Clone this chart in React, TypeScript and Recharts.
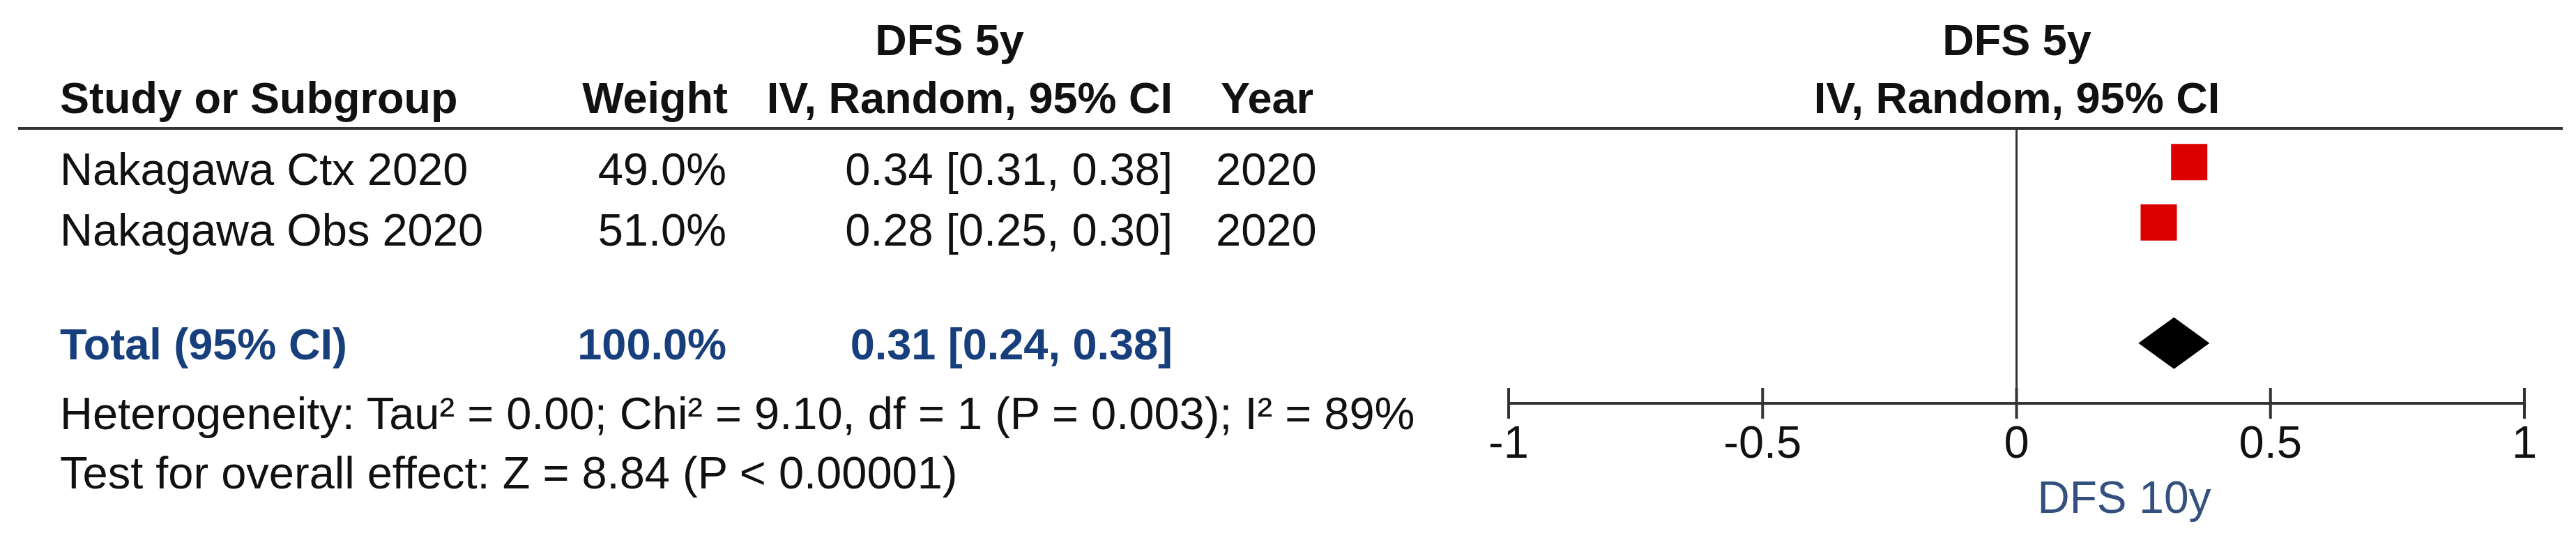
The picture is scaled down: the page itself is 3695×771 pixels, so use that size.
import React from "react";
import { ScatterChart, Scatter, XAxis, YAxis, ReferenceLine, Label } from "recharts";

// study rows
const studies = ["Nakagawa Ctx 2020", "Nakagawa Obs 2020"];
const weights = ["49.0%", "51.0%"];
const estimates = [0.34, 0.28];
const ciLower = [0.31, 0.25];
const ciUpper = [0.38, 0.3];
const years = ["2020", "2020"];

// pooled result
const totalLabel = "Total (95% CI)";
const totalWeight = "100.0%";
const totalEstimate = 0.31;
const totalLower = 0.24;
const totalUpper = 0.38;

const xTicks = [-1, -0.5, 0, 0.5, 1];
const outcomeTitle = "DFS 5y";
const methodLabel = "IV, Random, 95% CI";
const axisLabel = "DFS 10y";
const heterogeneityText =
  "Heterogeneity: Tau² = 0.00; Chi² = 9.10, df = 1 (P = 0.003); I² = 89%";
const overallEffectText = "Test for overall effect: Z = 8.84 (P < 0.00001)";

const SPACER = " ";
const FONT = '"Liberation Sans", Arial, sans-serif';
const INK = "#111111";
const TOTAL_BLUE = "#173f7c";
const LABEL_BLUE = "#34507e";
const LINE = "#333333";

const W = 3695;
const H = 771;

const fmtCI = (e: number, l: number, u: number) =>
  `${e.toFixed(2)} [${l.toFixed(2)}, ${u.toFixed(2)}]`;

const studyPoints = studies.map((s, i) => ({ study: s, x: estimates[i] }));
const spacerPoints = [{ study: SPACER, x: 0 }];
const pooledPoints = [totalLower, totalEstimate, totalUpper].map((x) => ({
  study: totalLabel,
  x,
}));

function RowTick(props: any) {
  const { y, payload } = props;
  const name = payload?.value;
  const i = studies.indexOf(name);
  if (i >= 0) {
    const by = y + 33;
    return (
      <g fontFamily={FONT} fontSize={65} fill={INK}>
        <text x={86} y={by}>{name}</text>
        <text x={1042} y={by} textAnchor="end">{weights[i]}</text>
        <text x={1682} y={by} textAnchor="end">
          {fmtCI(estimates[i], ciLower[i], ciUpper[i])}
        </text>
        <text x={1744} y={by}>{years[i]}</text>
      </g>
    );
  }
  if (name === totalLabel) {
    const by = y + 23;
    return (
      <g fontFamily={FONT} fontSize={63} fontWeight="bold" fill={TOTAL_BLUE}>
        <text x={86} y={by}>{totalLabel}</text>
        <text x={1042} y={by} textAnchor="end">{totalWeight}</text>
        <text x={1682} y={by} textAnchor="end">
          {fmtCI(totalEstimate, totalLower, totalUpper)}
        </text>
      </g>
    );
  }
  return <g />;
}

function AxisTick(props: any) {
  const { x, y, payload } = props;
  return (
    <g>
      <line x1={x} x2={x} y1={y - 22} y2={y + 22} stroke={LINE} strokeWidth={4} />
      <text
        x={x}
        y={y + 78}
        textAnchor="middle"
        fontFamily={FONT}
        fontSize={65}
        fill={INK}
      >
        {String(payload.value)}
      </text>
    </g>
  );
}

function StudySquare(props: any) {
  const { cx, cy } = props;
  if (cx == null || cy == null) return <g />;
  return <rect x={cx - 26} y={cy - 26} width={52} height={52} fill="#dd0000" />;
}

function PooledDiamond(props: any) {
  const pts = props.points || [];
  if (pts.length < 3) return <g />;
  const [lo, mid, hi] = pts;
  const h = 37;
  return (
    <polygon
      points={`${lo.x},${lo.y} ${mid.x},${mid.y - h} ${hi.x},${hi.y} ${mid.x},${mid.y + h}`}
      fill="#000000"
    />
  );
}

function Overlay() {
  const bold = { fontFamily: FONT, fontSize: 63, fontWeight: "bold" as const, fill: INK };
  const normal = { fontFamily: FONT, fontSize: 65, fill: INK };
  return (
    <svg
      width={W}
      height={H}
      style={{ position: "absolute", left: 0, top: 0, pointerEvents: "none" }}
    >
      <text x={1362} y={79} textAnchor="middle" {...bold}>{outcomeTitle}</text>
      <text x={2893} y={79} textAnchor="middle" {...bold}>{outcomeTitle}</text>
      <text x={86} y={162} {...bold}>Study or Subgroup</text>
      <text x={1044} y={162} textAnchor="end" {...bold}>Weight</text>
      <text x={1682} y={162} textAnchor="end" {...bold}>{methodLabel}</text>
      <text x={1751} y={162} {...bold}>Year</text>
      <text x={2893} y={162} textAnchor="middle" {...bold}>{methodLabel}</text>
      <line x1={26} x2={3676} y1={184} y2={184} stroke={LINE} strokeWidth={4} />
      <text x={86} y={615} {...normal}>{heterogeneityText}</text>
      <text x={86} y={700} {...normal}>{overallEffectText}</text>
    </svg>
  );
}

export default function App() {
  return (
    <div style={{ position: "absolute", left: 0, top: 0, width: W, height: H, background: "#fff" }}>
      <ScatterChart
        width={W}
        height={H}
        margin={{ top: 184, right: 74, left: 0, bottom: 0 }}
      >
        <XAxis
          type="number"
          dataKey="x"
          domain={[-1, 1]}
          ticks={xTicks}
          allowDataOverflow
          height={193}
          axisLine={{ stroke: LINE, strokeWidth: 4 }}
          tickLine={false}
          tickSize={0}
          tickMargin={0}
          tick={<AxisTick />}
        >
          <Label
            content={(p: any) => {
              const vb = p.viewBox || {};
              return (
                <text
                  x={vb.x + vb.width / 2 + 30}
                  y={vb.y + 157}
                  fontFamily={FONT}
                  fontSize={64}
                  fill={LABEL_BLUE}
                >
                  {axisLabel}
                </text>
              );
            }}
          />
        </XAxis>
        <YAxis
          type="category"
          dataKey="study"
          reversed
          allowDuplicatedCategory={false}
          interval={0}
          width={2164}
          padding={{ top: 5, bottom: 43 }}
          axisLine={false}
          tickLine={false}
          tick={<RowTick />}
        />
        <ReferenceLine x={0} stroke={LINE} strokeWidth={3} />
        <Scatter data={studyPoints} shape={<StudySquare />} isAnimationActive={false} />
        <Scatter data={spacerPoints} shape={() => <g />} isAnimationActive={false} />
        <Scatter
          data={pooledPoints}
          shape={() => <g />}
          line={<PooledDiamond />}
          isAnimationActive={false}
        />
      </ScatterChart>
      <Overlay />
    </div>
  );
}
